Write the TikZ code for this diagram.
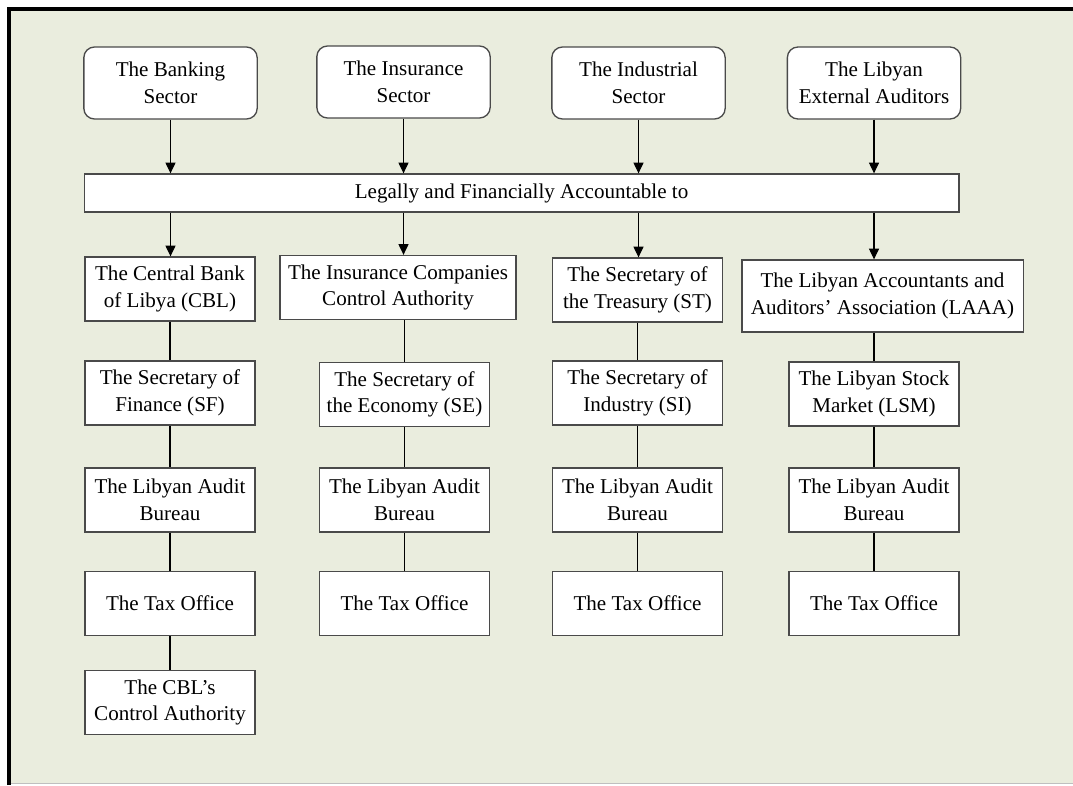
\documentclass[tikz,border=0pt]{standalone}
\usepackage{fontspec}
\setmainfont{Liberation Serif}
\usetikzlibrary{arrows.meta}
\definecolor{paper}{HTML}{EAEDDE}
\definecolor{edge}{HTML}{4A4A4A}

\begin{document}
\begin{tikzpicture}[
            x=0.75pt, y=-0.75pt,
            every node/.style={
                draw=edge,
                fill=white,
                line width=1pt,
                align=center,
                inner sep=2pt,
                font=\fontsize{15.8}{20}\selectfont
            },
            sector/.style={rounded corners=8pt, minimum width=130pt, minimum height=54pt},
            unit/.style={rectangle, minimum width=127.5pt, minimum height=48pt},
            link/.style={line width=0.8pt},
            flow/.style={line width=0.8pt, -{Triangle[width=7.5pt,length=8pt]}}
        ]

        % Fondo
        \useasboundingbox (0,0) rectangle (1073,785);
        \fill[white] (0,0) rectangle (1073,785);
        \fill[paper] (9,9) rectangle (1073,783);
        \draw[black!25, line width=0.75pt] (9,783.5) -- (1073,783.5);
        \draw[black, line width=3pt] (9,785) -- (9,9) -- (1073,9);

        % Sectores
        \node[sector] (bank) at (170.5,83) {The Banking\\Sector};
        \node[sector] (ins)  at (403.5,82) {The Insurance\\Sector};
        \node[sector] (ind)  at (638.5,83) {The Industrial\\Sector};
        \node[sector] (ext)  at (874,83)   {The Libyan\\External Auditors};

        \node[unit, minimum width=656pt, minimum height=28.5pt] (acc) at (521.5,193) {Legally and Financially Accountable to};

        % Fila 2
        \node[unit] (cbl) at (170,289) {The Central Bank\\of Libya (CBL)};
        \node[unit, minimum width=177pt] (icca) at (398,287.5) {The Insurance Companies\\Control Authority};
        \node[unit] (st) at (637.5,290) {The Secretary of\\the Treasury (ST)};
        \node[unit, minimum width=211pt, minimum height=54pt] (laaa) at (882.5,296) {The Libyan Accountants and\\Auditors' Association (LAAA)};

        % Fila 3
        \node[unit] (sf)  at (170,393)     {The Secretary of\\Finance (SF)};
        \node[unit] (se)  at (404.5,394.5) {The Secretary of\\the Economy (SE)};
        \node[unit] (si)  at (637.5,393)   {The Secretary of\\Industry (SI)};
        \node[unit] (lsm) at (874,394)     {The Libyan Stock\\Market (LSM)};

        % Fila 4
        \node[unit] (lab1) at (170,500)   {The Libyan Audit\\Bureau};
        \node[unit] (lab2) at (404.5,500) {The Libyan Audit\\Bureau};
        \node[unit] (lab3) at (637.5,500) {The Libyan Audit\\Bureau};
        \node[unit] (lab4) at (874,500)   {The Libyan Audit\\Bureau};

        % Fila 5
        \node[unit] (tax1) at (170,603.5)   {The Tax Office};
        \node[unit] (tax2) at (404.5,603.5) {The Tax Office};
        \node[unit] (tax3) at (637.5,603.5) {The Tax Office};
        \node[unit] (tax4) at (874,603.5)   {The Tax Office};

        \node[unit] (cblca) at (170,702.5) {The CBL's\\Control Authority};

        % Flechas
        \draw[flow] (bank) -- (bank |- acc.north);
        \draw[flow] (ins)  -- (ins |- acc.north);
        \draw[flow] (ind)  -- (ind |- acc.north);
        \draw[flow] (ext)  -- (ext |- acc.north);

        \draw[flow] (acc.south -| bank) -- (bank |- cbl.north);
        \draw[flow] (acc.south -| ins)  -- (ins |- icca.north);
        \draw[flow] (acc.south -| ind)  -- (ind |- st.north);
        \draw[flow] (acc.south -| ext)  -- (ext |- laaa.north);

        % Lineas
        \draw[link] (cbl) -- (sf);
        \draw[link] (sf) -- (lab1);
        \draw[link] (lab1) -- (tax1);
        \draw[link] (tax1) -- (cblca);

        \draw[link] (icca.south -| se) -- (se);
        \draw[link] (se) -- (lab2);
        \draw[link] (lab2) -- (tax2);

        \draw[link] (st) -- (si);
        \draw[link] (si) -- (lab3);
        \draw[link] (lab3) -- (tax3);

        \draw[link] (laaa.south -| lsm) -- (lsm);
        \draw[link] (lsm) -- (lab4);
        \draw[link] (lab4) -- (tax4);

        \end{tikzpicture}
\end{document}
